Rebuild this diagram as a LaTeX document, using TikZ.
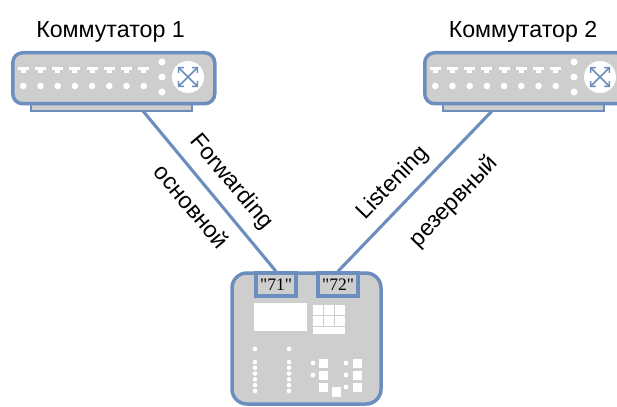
\documentclass[tikz,border=0pt]{standalone}
\usepackage{fontspec}
\setmainfont{Liberation Sans}
\newfontfamily\portfont{Liberation Serif}
\usetikzlibrary{arrows.meta,calc}

\definecolor{edgeblue}{HTML}{6C8EBF}
\definecolor{boxgray}{HTML}{CECECE}

\tikzset{
  lbl/.style={inner sep=0pt, font=\fontsize{23.2}{27}\selectfont},
  body/.style={draw=edgeblue, line width=3.5pt, fill=boxgray, rounded corners=10pt},
  basebar/.style={draw=edgeblue, line width=2.4pt, fill=boxgray},
  link/.style={draw=edgeblue, line width=3.1pt},
  portbox/.style={draw=edgeblue, line width=3.3pt, fill=boxgray, minimum width=40pt,
    minimum height=23pt, inner sep=0pt, font=\portfont\fontsize{17.5}{19}\selectfont},
  dot/.style={fill=white, draw=none},
  xarrow/.style={draw=edgeblue, line width=1.6pt, {Straight Barb[length=3.5pt,width=7.5pt]}-{Straight Barb[length=3.5pt,width=7.5pt]}}
}

% switch drawn with its top-left corner at the current shift
\newcommand{\drawswitch}[1]{%
  \path[basebar] (20,45) rectangle (181,60);
  \node[body, minimum width=202pt, minimum height=51pt, inner sep=0pt, anchor=north west] (#1) at (0,0) {};
  \foreach \i in {0,...,7} {
    \pgfmathsetmacro{\px}{12.3+17.2*\i}
    \path[dot] (\px-5.5,16) rectangle (\px+5.5,19.5);
    \path[dot] (\px-2.5,19.5) rectangle (\px+2.5,22.5);
    \path[dot] (\px,35) circle (3.3pt);
  }
  \foreach \yy in {11,26,41} \path[dot] (151,\yy) circle (3.5pt);
  \path[fill=white] (177,26) circle (16pt);
  \path[xarrow] (167,16) -- (187,36);
  \path[xarrow] (187,16) -- (167,36);
}

\begin{document}
\begin{tikzpicture}[x=1pt, y=-1pt]
\useasboundingbox (0,0) rectangle (617,406);
\clip (0,0) rectangle (617,406);

% connectors run behind the equipment
\coordinate (up1) at (143,111);
\coordinate (up2) at (492,111);

% device at the bottom
\path[draw=edgeblue, line width=3.5pt, fill=boxgray, rounded corners=15pt] (232,273) rectangle (381,404);
\node[portbox] (p71) at (276,284.5) {"71"};
\node[portbox] (p72) at (338,284.5) {"72"};

\draw[link] (up1) -- (p71.north);
\draw[link] (up2) -- (p72.north);

% front panel of the device
\path[dot] (254,303) rectangle (307,331);
\foreach \cx in {313,324,335} {
  \path[dot] (\cx,305) rectangle ++(9.5,9.5);
  \path[dot] (\cx,316) rectangle ++(9.5,9.5);
}
\path[dot] (313,327) rectangle (344.5,334);
\foreach \cx in {255,289} {
  \foreach \yy in {349,362,367.8,373.6,379.4,385.2,391} \path[dot] (\cx,\yy) circle (2.3pt);
}
\foreach \yy in {359,371,383} {
  \path[dot] (319,\yy) rectangle ++(9,9);
  \path[dot] (353,\yy) rectangle ++(9,9);
}
\path[dot] (331.5,387) rectangle ++(9.5,9.5);
\foreach \yy in {363,375} \path[dot] (313,\yy) circle (2.4pt);
\foreach \yy in {363,375,387} \path[dot] (346,\yy) circle (2.4pt);

% switches
\begin{scope}[shift={(11,51)}]
  \drawswitch{sw1}
\end{scope}
\begin{scope}[shift={(423,51)}]
  \drawswitch{sw2}
\end{scope}

\node[lbl, anchor=base] (t1) at (110.5,38) {Коммутатор 1};
\node[lbl, anchor=base] (t2) at (523,38) {Коммутатор 2};

% link labels
\node[lbl, rotate=-50] (fw) at (231,182) {Forwarding};
\node[lbl, rotate=-50] (mn) at (192,206) {основной};
\node[lbl, rotate=46] (ls) at (393,183) {Listening};
\node[lbl, rotate=46] (rs) at (454,202) {резервный};
\end{tikzpicture}
\end{document}
